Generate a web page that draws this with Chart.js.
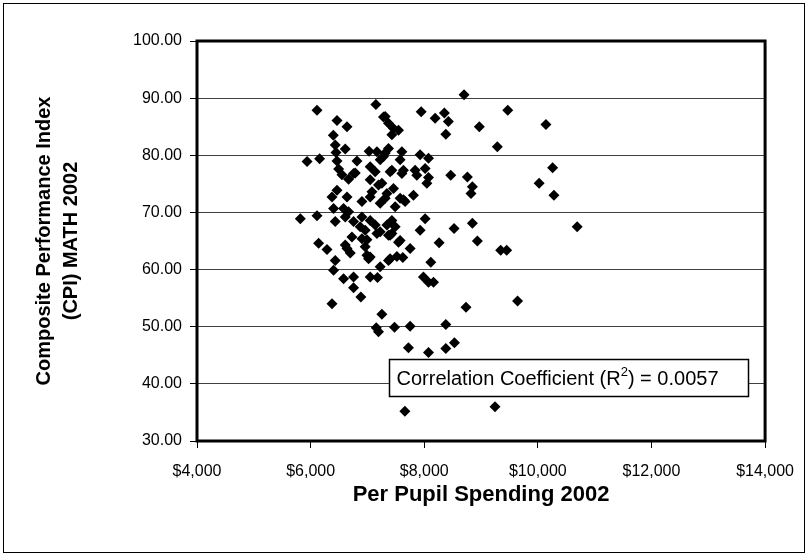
<!DOCTYPE html>
<html>
<head>
<meta charset="utf-8">
<script src="https://cdn.jsdelivr.net/npm/chart.js@4.4.0/dist/chart.umd.min.js"></script>
<style>
  html, body { margin: 0; padding: 0; background: #fff; }
</style>
</head>
<body>
<canvas id="chart" width="808" height="556"></canvas>
<script>
// per pupil spending ($) and CPI math score, one entry per district
const spending = [
  6112, 6464, 6640, 7149, 7283, 6400, 6434, 6610, 5937, 6159,
  6447, 6464, 6493, 6816, 7030, 7167, 7283, 7225, 7049, 7137,
  6756, 6551, 6668, 6786, 7049, 7195, 6464, 6376, 6640, 7079,
  7049, 6903, 7225, 7343, 6404, 6580, 6668, 5819, 6112, 6434,
  6610, 6756, 6903, 7049, 6873, 6961, 7137, 7225, 6727, 6610,
  6903, 6961, 7371, 6141, 6288, 6698, 6991, 6434, 6404, 6580,
  6756, 6756, 6885, 6376, 7049, 7177, 7225, 7254, 7155, 7195,
  7020, 7049, 6640, 6991, 7167, 7343, 7371, 7313, 7371, 7459,
  7547, 7430, 7371, 7313, 7606, 7576, 7634, 7430, 7928, 8075,
  8016, 7840, 7869, 8075, 8046, 8467, 8759, 8847, 8823, 7459,
  7313, 7576, 7634, 7489, 7810, 8016, 7928, 8525, 8847, 8935,
  8262, 7752, 7430, 7489, 7430, 7576, 7400, 7518, 7623, 8116,
  7986, 8075, 8163, 9346, 9452, 9643, 8735, 7477, 7752, 8380,
  7722, 8075, 8380, 8532, 7659, 9246, 8701, 7946, 8192, 8355,
  8425, 8970, 8380, 9470, 9286, 10142, 10260, 10023, 10283, 10692,
  7254, 7400, 7606, 7664, 7400, 7547
];
const cpiMath = [
  87.9, 86.1, 85.0, 88.9, 86.7, 83.5, 81.8, 81.1, 78.9, 79.4,
  80.5, 79.0, 77.6, 79.0, 80.7, 80.6, 79.8, 79.2, 78.0, 77.1,
  76.8, 76.6, 75.8, 76.9, 75.7, 74.8, 73.9, 72.7, 72.7, 73.6,
  72.7, 71.9, 71.6, 73.3, 70.7, 70.7, 70.1, 68.9, 69.4, 68.4,
  69.2, 68.4, 69.2, 68.6, 67.5, 66.9, 67.8, 66.6, 65.7, 64.3,
  65.4, 64.0, 66.0, 64.6, 63.5, 62.9, 62.5, 61.6, 59.9, 58.4,
  58.7, 56.8, 55.2, 54.0, 58.7, 58.6, 60.5, 52.2, 49.8, 49.1,
  61.9, 62.2, 63.7, 65.2, 66.3, 67.8, 61.6, 86.8, 85.6, 84.7,
  84.4, 83.6, 81.2, 80.4, 80.6, 79.2, 77.4, 77.4, 80.1, 79.5,
  77.7, 77.4, 76.5, 76.1, 75.1, 76.5, 76.2, 74.5, 73.3, 74.2,
  72.5, 72.5, 72.2, 71.0, 73.0, 68.9, 66.9, 67.2, 68.1, 65.0,
  64.7, 63.7, 68.6, 67.5, 66.3, 65.1, 61.9, 62.3, 62.1, 61.3,
  58.7, 57.8, 57.8, 63.4, 63.4, 54.5, 53.4, 49.9, 50.1, 50.4,
  46.3, 45.5, 46.2, 47.2, 35.2, 36.0, 90.6, 87.6, 86.5, 87.4,
  85.9, 85.0, 83.7, 87.9, 81.5, 85.4, 77.8, 75.1, 73.0, 67.5,
  75.1, 77.1, 76.8, 71.9, 66.0, 64.8
];
const xTicks = [4000, 6000, 8000, 10000, 12000, 14000];
const yTicks = [30, 40, 50, 60, 70, 80, 90, 100];
const rSquared = '0.0057';

const points = spending.map((s, i) => ({ x: s, y: cpiMath[i] }));

const decor = {
  id: 'decor',
  beforeDatasetsDraw(chart) {
    const { ctx, chartArea: a } = chart;
    ctx.save();
    ctx.lineWidth = 3;
    ctx.strokeStyle = '#000';
    ctx.strokeRect(a.left, a.top, a.right - a.left, a.bottom - a.top);
    ctx.restore();
  },
  afterDraw(chart) {
    const { ctx } = chart;
    const xs = chart.scales.x, ys = chart.scales.y;
    ctx.save();
    // outer frame
    ctx.lineWidth = 1;
    ctx.strokeStyle = '#000';
    ctx.strokeRect(3.5, 3.5, 801, 549);

    // r squared note
    const l = Math.round(xs.getPixelForValue(7383)) + 0.5;
    const r = Math.round(xs.getPixelForValue(13692)) + 0.5;
    const t = Math.round(ys.getPixelForValue(44.4)) + 0.5;
    const b = Math.round(ys.getPixelForValue(37.8)) + 0.5;
    ctx.fillStyle = '#fff';
    ctx.fillRect(l, t, r - l, b - t);
    ctx.lineWidth = 1.5;
    ctx.strokeRect(l, t, r - l, b - t);

    ctx.fillStyle = '#000';
    ctx.textBaseline = 'middle';
    const mid = (t + b) / 2 + 1;
    let x = l + 7;
    ctx.font = '20px "Liberation Sans", Arial, sans-serif';
    const a1 = 'Correlation Coefficient (R';
    ctx.fillText(a1, x, mid);
    x += ctx.measureText(a1).width;
    ctx.font = '13px "Liberation Sans", Arial, sans-serif';
    ctx.fillText('2', x, mid - 7);
    x += ctx.measureText('2').width;
    ctx.font = '20px "Liberation Sans", Arial, sans-serif';
    ctx.fillText(') = ' + rSquared, x, mid);
    ctx.restore();
  }
};

new Chart(document.getElementById('chart').getContext('2d'), {
  type: 'scatter',
  data: {
    datasets: [{
      label: 'Districts',
      data: points,
      pointStyle: 'rectRot',
      pointRadius: 5.5,
      pointHoverRadius: 5.5,
      backgroundColor: '#000',
      borderColor: '#000',
      borderWidth: 0
    }]
  },
  options: {
    responsive: false,
    animation: false,
    devicePixelRatio: 1,
    layout: { padding: { left: 0, top: 41, right: 42, bottom: 0 } },
    plugins: { legend: { display: false }, tooltip: { enabled: false } },
    scales: {
      x: {
        type: 'linear',
        min: xTicks[0],
        max: xTicks[xTicks.length - 1],
        afterFit: s => { s.height = 115; },
        afterBuildTicks: s => { s.ticks = xTicks.map(v => ({ value: v })); },
        ticks: {
          color: '#000',
          padding: 14,
          font: { family: '"Liberation Sans", Arial, sans-serif', size: 16 },
          callback: v => '$' + v.toLocaleString('en-US')
        },
        grid: { drawOnChartArea: false, drawTicks: true, tickLength: 7, tickColor: '#000' },
        border: { display: false },
        title: {
          display: true,
          text: 'Per Pupil Spending 2002',
          color: '#000',
          font: { family: '"Liberation Sans", Arial, sans-serif', size: 22, weight: 'bold' },
          padding: { top: 0, bottom: 48 }
        }
      },
      y: {
        min: yTicks[0],
        max: yTicks[yTicks.length - 1],
        afterFit: s => { s.width = 197; },
        afterBuildTicks: s => { s.ticks = yTicks.map(v => ({ value: v })); },
        ticks: {
          color: '#000',
          padding: 8,
          font: { family: '"Liberation Sans", Arial, sans-serif', size: 16 },
          callback: v => v.toFixed(2)
        },
        grid: { color: '#404040', lineWidth: 1, tickLength: 7, tickColor: '#000' },
        border: { display: false },
        title: {
          display: true,
          text: ['Composite Performance Index', '(CPI) MATH 2002'],
          color: '#000',
          font: { family: '"Liberation Sans", Arial, sans-serif', size: 20, weight: 'bold', lineHeight: 1.35 },
          padding: { top: 31, bottom: 0 }
        }
      }
    }
  },
  plugins: [decor]
});
</script>
</body>
</html>
